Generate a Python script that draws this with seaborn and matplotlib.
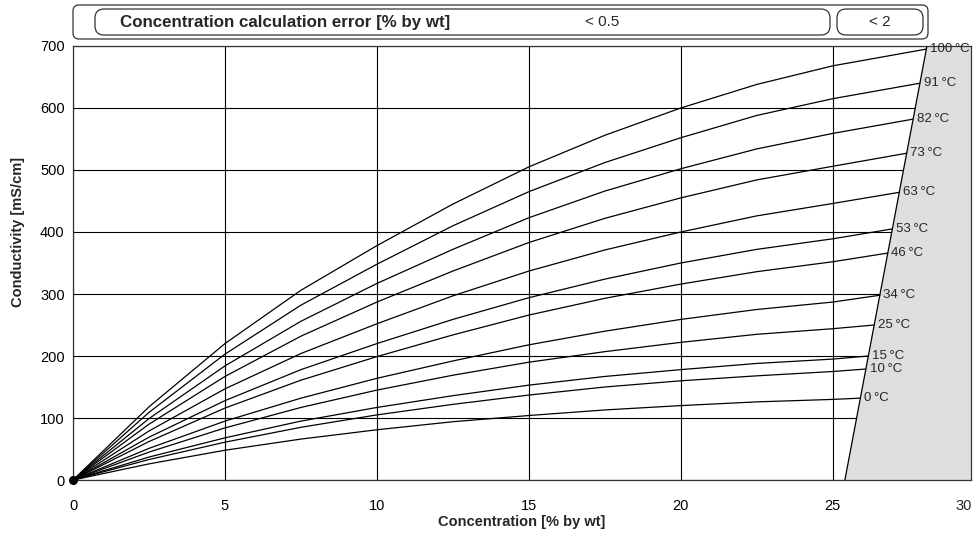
import pandas as pd
import matplotlib.pyplot as plt
import seaborn as sns
from matplotlib.patches import FancyBboxPatch, Polygon

# concentration steps (% by wt) shared by every curve, plus each curve's end point
conc_steps = [0, 2.5, 5, 7.5, 10, 12.5, 15, 17.5, 20, 22.5, 25]
temps = [100, 91, 82, 73, 63, 53, 46, 34, 25, 15, 10, 0]
end_conc = [28.08, 27.87, 27.64, 27.43, 27.19, 26.96, 26.81, 26.55, 26.36, 26.17, 26.09, 25.91]

# conductivity (mS/cm) at conc_steps, last value = end point
cond = {
    100: [0, 118, 220, 306, 378, 445, 505, 556, 600, 638, 668, 695],
    91:  [0, 109, 203, 282, 348, 410, 465, 512, 552, 588, 615, 640],
    82:  [0, 99, 184, 256, 317, 372, 423, 466, 502, 534, 559, 582],
    73:  [0, 90, 167, 232, 287, 337, 383, 422, 455, 484, 506, 527],
    63:  [0, 79, 147, 204, 252, 297, 337, 371, 400, 426, 446, 464],
    53:  [0, 69, 128, 178, 220, 259, 294, 324, 350, 372, 389, 405],
    46:  [0, 62, 116, 161, 199, 234, 266, 293, 316, 336, 352, 366],
    34:  [0, 51, 95, 132, 164, 192, 218, 240, 259, 275, 287, 298],
    25:  [0, 45, 84, 117, 145, 169, 190, 207, 222, 235, 244, 250],
    15:  [0, 37, 68, 95, 117, 136, 153, 167, 178, 188, 195, 200],
    10:  [0, 33, 61, 85, 105, 122, 137, 150, 160, 168, 175, 179],
    0:   [0, 26, 48, 66, 81, 94, 104, 113, 120, 126, 130, 132],
}

# validity limit of the calculation (grey zone starts here)
limit_conc = [25.4, 28.1]
limit_cond = [0, 700]
x_right = 29.55

rows = []
for t, xe in zip(temps, end_conc):
    xs = conc_steps + [xe]
    for x, y in zip(xs, cond[t]):
        rows.append({"conc": x, "cond": y, "temp": t})
df = pd.DataFrame(rows)

sns.set_style("white")
plt.rcParams["font.family"] = ["Liberation Sans", "DejaVu Sans"]

fig = plt.figure(figsize=(9.77, 5.39), dpi=100)
ax = fig.add_axes([73 / 977, 59 / 539, 898 / 977, 434 / 539])

ax.set_xlim(0, x_right)
ax.set_ylim(0, 700)
ax.set_xticks([0, 5, 10, 15, 20, 25])
ax.set_yticks(range(0, 701, 100))
ax.grid(True, color="black", linewidth=0.8)
ax.set_axisbelow(True)

sns.lineplot(data=df, x="conc", y="cond", hue="temp", units="temp", estimator=None,
             palette=["black"] * len(temps), linewidth=0.9, legend=False, ax=ax,
             sort=False, zorder=3)
ax.plot([0], [0], marker="o", color="black", markersize=5.5, zorder=4, clip_on=False)

# grey out-of-range zone
poly = Polygon([(limit_conc[0], limit_cond[0]), (limit_conc[1], limit_cond[1]),
                (x_right, 700), (x_right, 0)], closed=True,
               facecolor="#dedede", edgecolor="none", zorder=2)
ax.add_patch(poly)
ax.plot(limit_conc, limit_cond, color="black", linewidth=0.9, zorder=3)

for t, xe in zip(temps, end_conc):
    ax.text(xe + 0.12, cond[t][-1], f"{t}\u2009°C", fontsize=9.5, va="center",
            ha="left", zorder=5)

for s in ax.spines.values():
    s.set_color("#333333")
    s.set_linewidth(0.9)
ax.tick_params(axis="both", direction="inout", length=6, width=0.8,
               labelsize=10.5, colors="black", pad=3)
ax.tick_params(axis="x", pad=11)
ax.annotate("30", xy=(29.3, 0), xycoords=ax.get_xaxis_transform(),
            xytext=(0, -14), textcoords="offset points", ha="center", va="top",
            fontsize=10.5)

ax.set_xlabel("Concentration [% by wt]", fontsize=10.5, fontweight="bold", labelpad=1)
ax.set_ylabel("Conductivity [mS/cm]", fontsize=10.5, fontweight="bold")
ax.yaxis.set_label_coords(-48 / 898, (480 - 232) / 434)

# header banner drawn in pixel coordinates
ov = fig.add_axes([0, 0, 1, 1], zorder=10)
ov.set_xlim(0, 977)
ov.set_ylim(539, 0)
ov.axis("off")
ov.patch.set_alpha(0)
ov.add_patch(FancyBboxPatch((73, 5), 855, 34, boxstyle="round,pad=0,rounding_size=6",
                            facecolor="white", edgecolor="#333333", linewidth=0.9))
ov.add_patch(FancyBboxPatch((95, 9), 735, 26, boxstyle="round,pad=0,rounding_size=9",
                            facecolor="white", edgecolor="#333333", linewidth=0.9))
ov.add_patch(FancyBboxPatch((837, 9), 86, 26, boxstyle="round,pad=0,rounding_size=9",
                            facecolor="white", edgecolor="#333333", linewidth=0.9))
ov.text(120, 22, "Concentration calculation error [% by wt]", fontsize=12.2,
        fontweight="bold", va="center", ha="left")
ov.text(602, 22, "< 0.5", fontsize=11, va="center", ha="center")
ov.text(880, 22, "< 2", fontsize=11, va="center", ha="center")

fig.savefig("out.png", dpi=100)
